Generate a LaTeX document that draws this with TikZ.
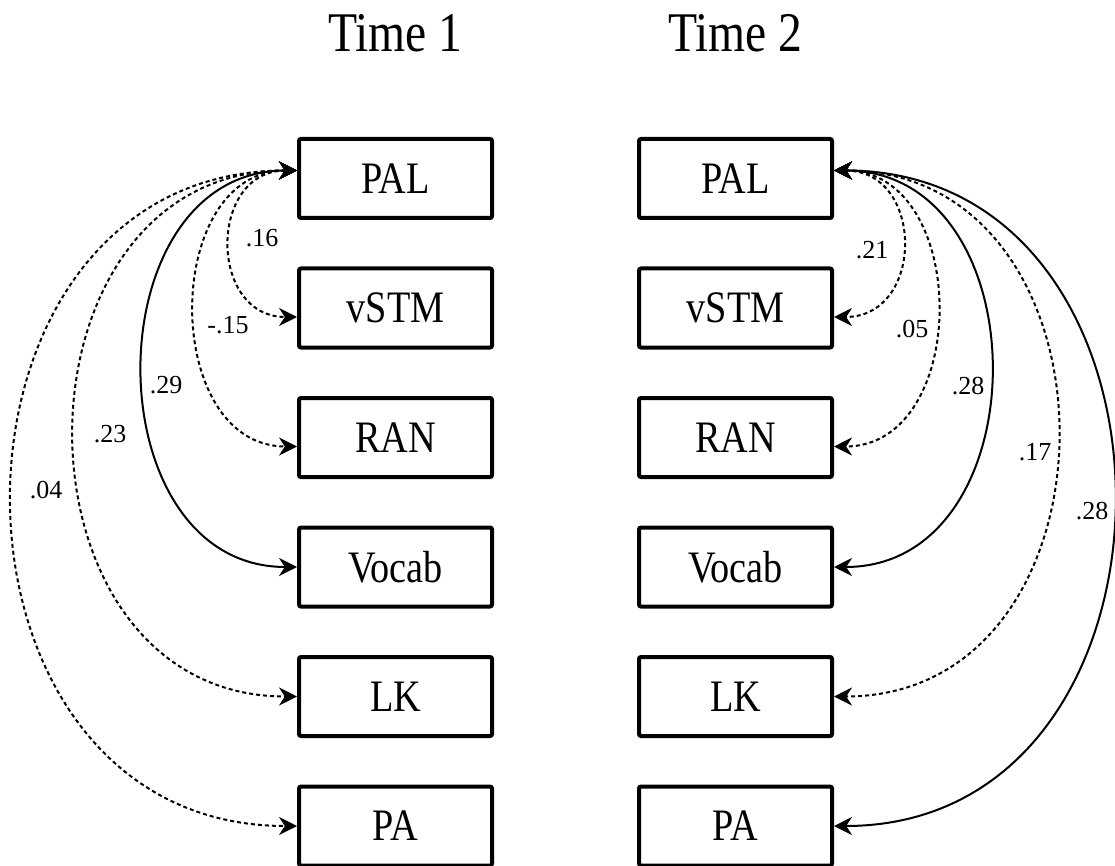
\documentclass[tikz,border=0pt]{standalone}
\usepackage{fontspec}
\setmainfont{Liberation Serif}
\newfontfamily\narrowfont[FakeStretch=0.85]{Liberation Serif}
\usetikzlibrary{arrows.meta}
\begin{document}
\begin{tikzpicture}[x=1pt,y=-1pt,
  var/.style={draw, line width=4pt, rounded corners=2pt, minimum width=193pt, minimum height=79pt, inner sep=0pt, font=\narrowfont\fontsize{45}{45}\selectfont},
  ttl/.style={font=\narrowfont\fontsize{56}{56}\selectfont, inner sep=0pt},
  lab/.style={font=\fontsize{26}{26}\selectfont, inner sep=0pt},
  conn/.style={line width=2pt, {Stealth[length=18pt,width=18pt]}-{Stealth[length=18pt,width=18pt]}},
  dconn/.style={conn, dash pattern=on 4pt off 3pt}
]
\useasboundingbox (0,0) rectangle (1115,866);

\node[ttl] (t1) at (395.5,33.5) {Time 1};
\node[ttl] (t2) at (735.5,33.5) {Time 2};

\foreach \n/\t/\y in {PAL/PAL/178.5, vSTM/vSTM/308, RAN/RAN/437.5, Voc/Vocab/567, LK/LK/696.5, PA/PA/826} {
  \node[var] (\n1) at (395.5,\y) {\t};
  \node[var] (\n2) at (735.5,\y) {\t};
}

% Time 1 connectors
\draw[dconn] ([yshift=8pt]PAL1.west) to[out=180,in=180,distance=89pt] ([yshift=-9pt]vSTM1.west);
\draw[dconn] ([yshift=8pt]PAL1.west) to[out=180,in=180,distance=136pt] ([yshift=-9pt]RAN1.west);
\draw[conn]  ([yshift=8pt]PAL1.west) to[out=180,in=180,distance=205pt] (Voc1.west);
\draw[dconn] ([yshift=8pt]PAL1.west) to[out=180,in=180,distance=296pt] (LK1.west);
\draw[dconn] ([yshift=8pt]PAL1.west) to[out=180,in=180,distance=379pt] (PA1.west);

% Time 2 connectors
\draw[dconn] ([yshift=8pt]PAL2.east) to[out=0,in=0,distance=91pt] ([yshift=-9pt]vSTM2.east);
\draw[dconn] ([yshift=8pt]PAL2.east) to[out=0,in=0,distance=137pt] ([yshift=-9pt]RAN2.east);
\draw[conn]  ([yshift=8pt]PAL2.east) to[out=0,in=0,distance=208pt] (Voc2.east);
\draw[dconn] ([yshift=8pt]PAL2.east) to[out=0,in=0,distance=297pt] (LK2.east);
\draw[conn]  ([yshift=8pt]PAL2.east) to[out=0,in=0,distance=372pt] (PA2.east);

% labels
\node[lab] (a1) at (262,238) {.16};
\node[lab] (a2) at (228,325) {-.15};
\node[lab] (a3) at (166,385) {.29};
\node[lab] (a4) at (110,434) {.23};
\node[lab] (a5) at (46,490) {.04};
\node[lab] (b1) at (872,250) {.21};
\node[lab] (b2) at (912,329) {.05};
\node[lab] (b3) at (968,386) {.28};
\node[lab] (b4) at (1035,452) {.17};
\node[lab] (b5) at (1092,511) {.28};
\end{tikzpicture}
\end{document}
